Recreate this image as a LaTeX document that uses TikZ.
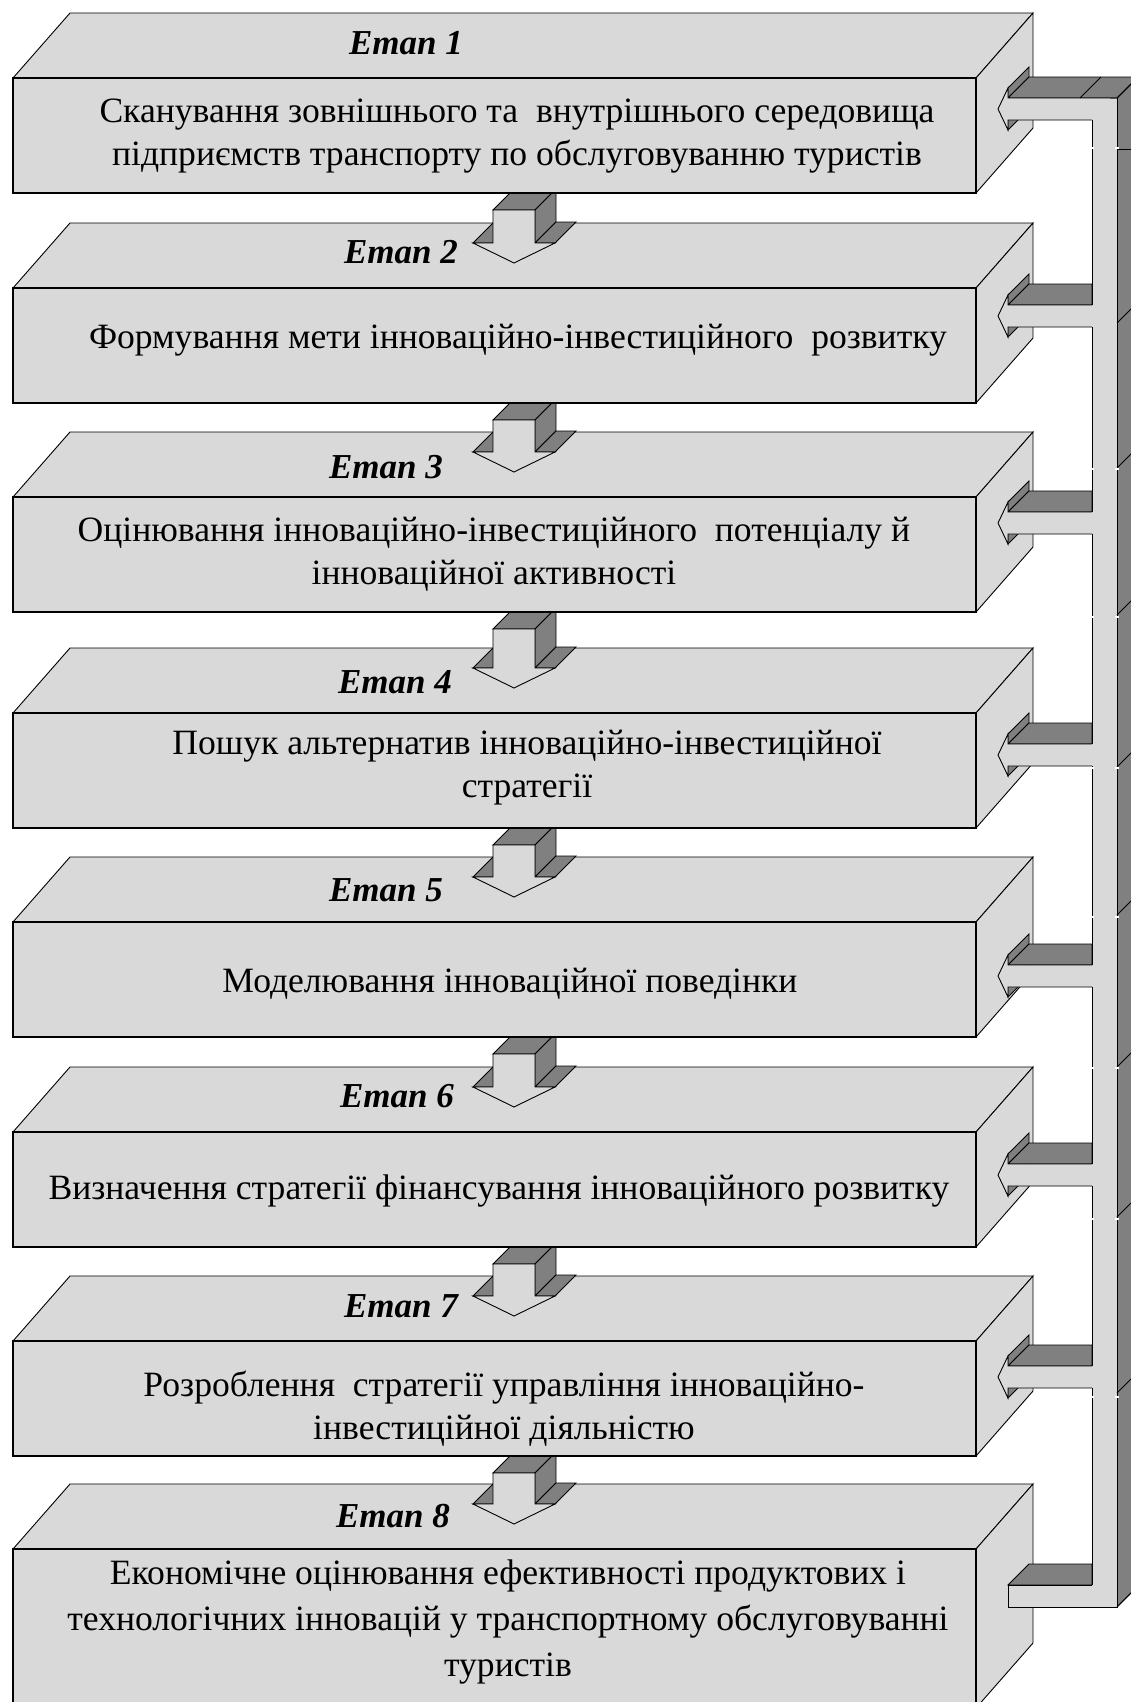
\documentclass[tikz,border=0pt]{standalone}
\usepackage{fontspec}
\setmainfont{Liberation Serif}
\definecolor{facelight}{HTML}{D9D9D9}
\definecolor{facedark}{HTML}{808080}
\tikzset{
  face/.style={fill=facelight, draw=black, line width=0.9pt},
  front/.style={fill=facelight, draw=black, line width=2.2pt},
  shade/.style={fill=facedark, draw=black, line width=0.9pt},
  rim/.style={draw=black, line width=0.9pt},
  gap/.style={draw=white, line width=1.5pt},
  stagelabel/.style={font=\fontsize{35}{40}\selectfont\bfseries\itshape, inner sep=0pt},
  stagetext/.style={font=\fontsize{35.6}{43}\selectfont, align=center, inner sep=0pt},
}

% 3D block: #1 = top edge of the front face, #2 = height of the front face
\newcommand\stageblock[2]{%
  \draw[face] (13,#1) -- (70,{#1-65}) -- (1033,{#1-65}) -- (976,#1) -- cycle;
  \draw[face] (976,#1) -- (1033,{#1-65}) -- (1033,{#1+#2-65}) -- (976,{#1+#2}) -- cycle;
  \draw[front] (13,#1) rectangle (976,{#1+#2});
}

% 3D arrow pointing down: #1 = top of the shaft, #2 = base of the head
\newcommand\stagearrow[2]{%
  \draw[shade] (493,#1) -- (514,{#1-21}) -- (556,{#1-21}) -- (535,#1) -- cycle;
  \draw[shade] (535,#1) -- (556,{#1-21}) -- (556,{#2-21}) -- (535,#2) -- cycle;
  \draw[shade] (535,#2) -- (555,#2) -- (576,{#2-21}) -- (556,{#2-21}) -- cycle;
  \draw[shade] (473,#2) -- (493,#2) -- (514,{#2-21}) -- (494,{#2-21}) -- cycle;
  \draw[face] (493,#1) -- (535,#1) -- (535,#2) -- (555,#2) -- (514,{#2+20}) -- (473,#2) -- (493,#2) -- cycle;
}

% 3D arrow from the feedback column into a block: #1 = axis of the arrow
\newcommand\feedarrow[1]{%
  \draw[shade] (1008,{#1-21}) -- (1029,{#1-42}) -- (1029,{#1-32}) -- (1008,{#1-11}) -- cycle;
  \draw[shade] (1008,{#1-11}) -- (1029,{#1-32}) -- (1092,{#1-32}) -- (1092,{#1-11}) -- cycle;
  \draw[shade] (1008,{#1+11}) -- (1029,{#1-10}) -- (1029,#1) -- (1008,{#1+21}) -- cycle;
  \fill[facelight] (998,#1) -- (1008,{#1-21}) -- (1008,{#1-11}) -- (1094,{#1-11})
     -- (1094,{#1+11}) -- (1008,{#1+11}) -- (1008,{#1+21}) -- cycle;
  \draw[rim] (1092,{#1-11}) -- (1008,{#1-11}) -- (1008,{#1-21}) -- (998,#1)
     -- (1008,{#1+21}) -- (1008,{#1+11}) -- (1092,{#1+11});
}

\begin{document}
\begin{tikzpicture}[x=1pt,y=-1pt]
\useasboundingbox (0,0) rectangle (1131,1702);
\clip (0,0) rectangle (1131,1702);

% stages, drawn from the bottom up so each block hides the shaft behind it
\stageblock{1549}{159}
\stagearrow{1473}{1504}
\stageblock{1341}{115}
\stagearrow{1264}{1296}
\stageblock{1132}{115}
\stagearrow{1054}{1087}
\stageblock{922}{115}
\stagearrow{845}{877}
\stageblock{713}{115}
\stagearrow{629}{668}
\stageblock{497}{115}
\stagearrow{420}{452}
\stageblock{288}{115}
\stagearrow{210}{243}
\stageblock{78}{115}

% feedback column
\draw[shade] (1117,98) -- (1138,77) -- (1138,1586) -- (1117,1607) -- cycle;
\fill[facelight] (1092,98) rectangle (1117,1607);

% top bend with the arrow into stage 1
\draw[shade] (1008,88) -- (1029,67) -- (1029,77) -- (1008,98) -- cycle;
\draw[shade] (1008,98) -- (1029,77) -- (1138,77) -- (1117,98) -- cycle;
\draw[shade] (1008,120) -- (1029,99) -- (1029,109) -- (1008,130) -- cycle;
\fill[facelight] (998,109) -- (1008,88) -- (1008,98) -- (1110,98) -- (1110,120)
   -- (1008,120) -- (1008,130) -- cycle;
\draw[rim] (1117,98) -- (1008,98) -- (1008,88) -- (998,109) -- (1008,130)
   -- (1008,120) -- (1092,120);

% arrows into stages 2-7
\feedarrow{316}
\feedarrow{523}
\feedarrow{755}
\feedarrow{976}
\feedarrow{1175}
\feedarrow{1377}

% bottom bend leaving stage 8
\draw[shade] (1008,1585) -- (1029,1564) -- (1092,1564) -- (1092,1585) -- cycle;
\fill[facelight] (1008,1585) rectangle (1110,1607);
\draw[rim] (1092,1585) -- (1008,1585) -- (1008,1607) -- (1117,1607) -- (1117,98);
\draw[rim] (1117,1607) -- (1138,1586);
\draw[rim] (1117,98) -- (1138,77);
\foreach \a/\b in {120/305, 327/512, 534/744, 766/965, 987/1164, 1186/1366, 1388/1585}
  \draw[rim] (1092,\a) -- (1092,\b);

% seams between the pieces of the column
\draw[rim] (1080,98) -- (1101,77);
\draw[rim] (1117,149) -- (1138,149);
\foreach \y in {323,468,615,767,915,1067,1217,1393}
  \draw[rim] (1117,\y) -- (1138,{\y-21});
\foreach \y in {148,469,617,768,917,1068,1219,1397}{
  \draw[gap] (1090,\y) -- (1094,\y);
  \draw[gap] (1115,\y) -- (1119,\y);
}

% stage titles
\node[stagelabel] (l1) at (406,43) {Етап 1};
\node[stagelabel] (l2) at (401,252) {Етап 2};
\node[stagelabel] (l3) at (386,467) {Етап 3};
\node[stagelabel] (l4) at (395,682) {Етап 4};
\node[stagelabel] (l5) at (386,890) {Етап 5};
\node[stagelabel] (l6) at (397,1096) {Етап 6};
\node[stagelabel] (l7) at (401,1306) {Етап 7};
\node[stagelabel] (l8) at (393,1516) {Етап 8};

% stage contents
\node[stagetext] (t1) at (517,136) {Сканування зовнішнього та~ внутрішнього середовища\\підприємств транспорту по обслуговуванню туристів};
\node[stagetext] (t2) at (518,340) {Формування мети інноваційно-інвестиційного~ розвитку};
\node[stagetext] (t3) at (494,554) {Оцінювання інноваційно-інвестиційного~ потенціалу й\\інноваційної активності};
\node[stagetext] (t4) at (527,768) {Пошук альтернатив інноваційно-інвестиційної\\стратегії};
\node[stagetext] (t5) at (510,984) {Моделювання інноваційної поведінки};
\node[stagetext] (t6) at (499,1191) {Визначення стратегії фінансування інноваційного розвитку};
\node[stagetext] (t7) at (504,1409) {Розроблення~ стратегії управління інноваційно-\\інвестиційної діяльністю};
\node[stagetext, font=\fontsize{35.6}{46}\selectfont] (t8) at (508,1622) {Економічне оцінювання ефективності продуктових і\\технологічних інновацій у транспортному обслуговуванні\\туристів};
\end{tikzpicture}
\end{document}
